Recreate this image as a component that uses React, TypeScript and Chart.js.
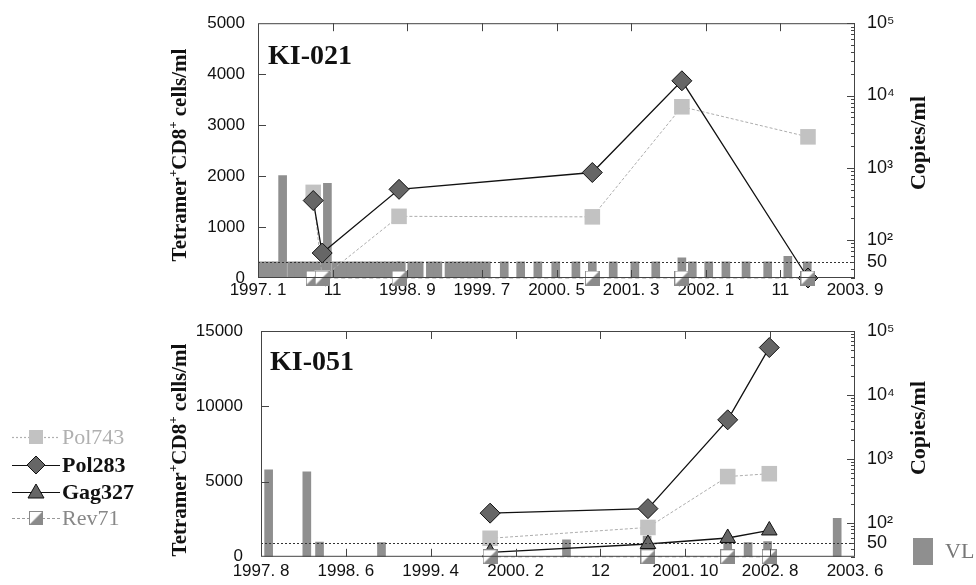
import React, { useEffect, useRef } from 'react';
import { Chart, registerables } from 'chart.js';

Chart.register(...registerables);

// ---------- KI-021 (top panel); x = months since 1997.1 ----------
const topXLabels = ['1997. 1', '11', '1998. 9', '1999. 7', '2000. 5', '2001. 3', '2002. 1', '11', '2003. 9'];
const topSampleMonths = [7.4, 8.6, 18.9, 44.8, 56.8, 73.7];
const topPol743 = [1680, 0, 1210, 1200, 3360, 2770];
const topPol283 = [1520, 490, 1740, 2070, 3870, 0];
const topRev71 = [0, 0, 0, 0, 0, 0];
const topVLMonths = [
  0.5, 1.5, 2.5, 3.3, 4.5, 5.5, 6.5, 7.5, 8.5, 9.3, 10.5, 11.5, 12.5, 13.5, 14.5, 15.5, 16.5, 17.5, 18.5, 19.2,
  20.6, 21.6, 23.1, 24.1, 25.6, 26.6, 27.6, 28.6, 29.6, 30.6, 33.0, 35.2, 37.5, 39.9, 42.6, 44.8, 47.6, 50.5,
  53.3, 56.8, 58.2, 60.4, 62.7, 65.4, 68.3, 71.0, 73.6,
];
const topVL = [
  50, 50, 50, 780, 50, 50, 50, 50, 50, 610, 50, 50, 50, 50, 50, 50, 50, 50, 50, 50,
  50, 50, 50, 50, 50, 50, 50, 50, 50, 50, 50, 50, 50, 50, 50, 50, 50, 50,
  50, 57, 50, 50, 50, 50, 50, 60, 50,
];

// ---------- KI-051 (bottom panel); x = months since 1997.8 ----------
const botXLabels = ['1997. 8', '1998. 6', '1999. 4', '2000. 2', '12', '2001. 10', '2002. 8', '2003. 6'];
const botSampleMonths = [27.0, 45.6, 55.0, 59.9];
const botPol743 = [1230, 1950, 5330, 5520];
const botPol283 = [2900, 3200, 9100, 13900];
const botGag327 = [300, 850, 1250, 1750];
const botRev71 = [0, 0, 0, 0];
const botVLMonths = [0.9, 5.4, 6.9, 14.2, 36.0, 45.5, 55.0, 57.4, 59.7, 67.9];
const botVL = [681, 635, 51, 50, 55, 63, 53, 50, 52, 119];

// right (log) axis ticks
const vlTickValues = [50, 100, 1000, 10000, 100000];
const vlTickLabels = ['50', '10²', '10³', '10⁴', '10⁵'];

const TICK_FONT = { family: "'Liberation Sans', Arial, sans-serif", size: 17 };
const SERIF = "'Liberation Serif', 'Times New Roman', serif";

function makeRevMarker(): HTMLCanvasElement {
  const c = document.createElement('canvas');
  c.width = 15;
  c.height = 15;
  const g = c.getContext('2d')!;
  g.fillStyle = '#ffffff';
  g.fillRect(0, 0, 15, 15);
  g.fillStyle = '#8a8a8a';
  g.beginPath();
  g.moveTo(0, 15);
  g.lineTo(15, 0);
  g.lineTo(15, 15);
  g.closePath();
  g.fill();
  g.strokeStyle = '#8a8a8a';
  g.lineWidth = 1;
  g.strokeRect(0.5, 0.5, 14, 14);
  return c;
}

function pts(months: number[], vals: number[]) {
  return months.map((m, i) => ({ x: m, y: vals[i] }));
}

function drawRich(ctx: CanvasRenderingContext2D, parts: { t: string; sup?: boolean }[], cx: number, cy: number, size: number) {
  const big = `bold ${size}px ${SERIF}`;
  const small = `bold ${Math.round(size * 0.62)}px ${SERIF}`;
  let total = 0;
  parts.forEach((p) => {
    ctx.font = p.sup ? small : big;
    total += ctx.measureText(p.t).width;
  });
  ctx.save();
  ctx.translate(cx, cy);
  ctx.rotate(-Math.PI / 2);
  ctx.textBaseline = 'middle';
  ctx.textAlign = 'left';
  let x = -total / 2;
  parts.forEach((p) => {
    ctx.font = p.sup ? small : big;
    ctx.fillText(p.t, x, p.sup ? -size * 0.33 : 0);
    x += ctx.measureText(p.t).width;
  });
  ctx.restore();
}

function line(ctx: CanvasRenderingContext2D, x1: number, y1: number, x2: number, y2: number) {
  ctx.beginPath();
  ctx.moveTo(x1, y1);
  ctx.lineTo(x2, y2);
  ctx.stroke();
}

type Decor = {
  label: string;
  labelX: number;
  labelY: number;
  yTitleY: number;
  rTitleY: number;
  legend: boolean;
  rev: HTMLCanvasElement;
};

function decorPlugin(d: Decor) {
  return {
    id: 'decor',
    afterDatasetsDraw(chart: any) {
      const { ctx, chartArea: a, scales } = chart;
      const x = scales.x;
      const yL = scales.y;
      const yR = scales.yR;
      ctx.save();
      ctx.strokeStyle = '#333';
      ctx.lineWidth = 1;
      // detection limit line
      ctx.setLineDash([2, 2]);
      const y50 = Math.round(yR.getPixelForValue(50)) + 0.5;
      line(ctx, a.left, y50, a.right, y50);
      ctx.setLineDash([]);
      // frame
      ctx.strokeStyle = '#444';
      ctx.strokeRect(a.left + 0.5, a.top + 0.5, a.width - 1, a.height - 1);
      // x ticks (inward, top and bottom)
      x.ticks.forEach((t: any) => {
        const px = Math.round(x.getPixelForValue(t.value)) + 0.5;
        if (px <= a.left + 2 || px >= a.right - 2) return;
        line(ctx, px, a.top, px, a.top + 8);
        line(ctx, px, a.bottom, px, a.bottom - 8);
      });
      // left ticks
      yL.ticks.forEach((t: any) => {
        const py = Math.round(yL.getPixelForValue(t.value)) + 0.5;
        if (py <= a.top + 2 || py >= a.bottom - 2) return;
        line(ctx, a.left, py, a.left + 8, py);
      });
      // right log ticks
      for (let dec = 10; dec <= 100000; dec *= 10) {
        for (let k = 1; k < 10; k++) {
          const v = dec * k;
          if (v < yR.min || v > yR.max) continue;
          const py = Math.round(yR.getPixelForValue(v)) + 0.5;
          const len = k === 1 ? 8 : 4;
          line(ctx, a.right - len, py, a.right, py);
        }
      }
      ctx.restore();
    },
    afterDraw(chart: any) {
      const { ctx } = chart;
      ctx.save();
      ctx.fillStyle = '#111';
      ctx.font = `bold 28px ${SERIF}`;
      ctx.textAlign = 'left';
      ctx.textBaseline = 'alphabetic';
      ctx.fillText(d.label, d.labelX, d.labelY);
      drawRich(ctx, [{ t: 'Tetramer' }, { t: '+', sup: true }, { t: 'CD8' }, { t: '+', sup: true }, { t: ' cells/ml' }], 181, d.yTitleY, 21);
      drawRich(ctx, [{ t: 'Copies/ml' }], 919, d.rTitleY, 22);

      if (d.legend) {
        const rows = [
          { name: 'Pol743', y: 137, color: '#b0b0b0', bold: false, dash: [2, 2], lc: '#b0b0b0', mk: 'sq' },
          { name: 'Pol283', y: 165, color: '#111', bold: true, dash: [], lc: '#111', mk: 'di' },
          { name: 'Gag327', y: 192, color: '#111', bold: true, dash: [], lc: '#111', mk: 'tr' },
          { name: 'Rev71', y: 218, color: '#888', bold: false, dash: [3, 2], lc: '#999', mk: 'rv' },
        ];
        rows.forEach((r) => {
          ctx.strokeStyle = r.lc;
          ctx.lineWidth = 1.2;
          ctx.setLineDash(r.dash);
          line(ctx, 12, r.y + 0.5, 60, r.y + 0.5);
          ctx.setLineDash([]);
          const cx = 36;
          const cy = r.y;
          ctx.beginPath();
          if (r.mk === 'sq') {
            ctx.fillStyle = '#c2c2c2';
            ctx.fillRect(cx - 7, cy - 7, 14, 14);
          } else if (r.mk === 'di') {
            ctx.moveTo(cx - 9, cy);
            ctx.lineTo(cx, cy - 9);
            ctx.lineTo(cx + 9, cy);
            ctx.lineTo(cx, cy + 9);
            ctx.closePath();
            ctx.fillStyle = '#666';
            ctx.fill();
            ctx.strokeStyle = '#111';
            ctx.lineWidth = 1;
            ctx.stroke();
          } else if (r.mk === 'tr') {
            ctx.moveTo(cx, cy - 8);
            ctx.lineTo(cx + 8, cy + 6);
            ctx.lineTo(cx - 8, cy + 6);
            ctx.closePath();
            ctx.fillStyle = '#666';
            ctx.fill();
            ctx.strokeStyle = '#111';
            ctx.lineWidth = 1;
            ctx.stroke();
          } else {
            ctx.drawImage(d.rev, cx - 7, cy - 7, 14, 14);
          }
          ctx.fillStyle = r.color;
          ctx.font = `${r.bold ? 'bold ' : ''}22px ${SERIF}`;
          ctx.textBaseline = 'middle';
          ctx.fillText(r.name, 62, r.y + 1);
        });
        // VL legend
        ctx.fillStyle = '#8f8f8f';
        ctx.fillRect(913, 238, 20, 27);
        ctx.fillStyle = '#777';
        ctx.font = `22px ${SERIF}`;
        ctx.textBaseline = 'middle';
        ctx.fillText('VL', 945, 252);
      }
      ctx.restore();
    },
  };
}

type PanelCfg = {
  width: number;
  height: number;
  padTop: number;
  xHeight: number;
  xPad: number;
  leftWidth: number;
  xMax: number;
  xLabels: string[];
  yMax: number;
  yStep: number;
  yPad: number;
  vlMonths: number[];
  vl: number[];
  months: number[];
  pol743: number[];
  pol283: number[];
  gag327: number[] | null;
  rev71: number[];
  decor: Omit<Decor, 'rev'>;
};

function buildChart(canvas: HTMLCanvasElement, p: PanelCfg) {
  const rev = makeRevMarker();
  const datasets: any[] = [
    {
      type: 'line',
      label: 'Rev71',
      data: pts(p.months, p.rev71),
      yAxisID: 'y',
      borderColor: '#9a9a9a',
      borderWidth: 1,
      borderDash: [4, 3],
      pointStyle: rev,
      pointRadius: 7,
      order: 0,
      clip: false,
    },
    {
      type: 'line',
      label: 'Pol283',
      data: pts(p.months, p.pol283),
      yAxisID: 'y',
      borderColor: '#111',
      borderWidth: 1.3,
      pointStyle: 'rectRot',
      pointRadius: 10,
      pointBackgroundColor: '#666',
      pointBorderColor: '#111',
      pointBorderWidth: 1,
      order: 1,
      clip: false,
    },
    {
      type: 'line',
      label: 'Pol743',
      data: pts(p.months, p.pol743),
      yAxisID: 'y',
      borderColor: '#adadad',
      borderWidth: 1,
      borderDash: [3, 2],
      pointStyle: 'rect',
      pointRadius: 11,
      pointBackgroundColor: '#c2c2c2',
      pointBorderColor: '#c2c2c2',
      pointBorderWidth: 0,
      order: 3,
      clip: false,
    },
    {
      type: 'bar',
      label: 'VL',
      data: pts(p.vlMonths, p.vl),
      yAxisID: 'yR',
      backgroundColor: '#8f8f8f',
      borderWidth: 0,
      barThickness: 8,
      order: 10,
    },
  ];
  if (p.gag327) {
    datasets.push({
      type: 'line',
      label: 'Gag327',
      data: pts(p.months, p.gag327),
      yAxisID: 'y',
      borderColor: '#111',
      borderWidth: 1.3,
      pointStyle: 'triangle',
      pointRadius: 9,
      pointBackgroundColor: '#666',
      pointBorderColor: '#111',
      pointBorderWidth: 1,
      order: 2,
      clip: false,
    });
  }
  return new Chart(canvas, {
    type: 'bar',
    data: { datasets },
    options: {
      responsive: false,
      animation: false,
      events: [],
      layout: { padding: { top: p.padTop, left: 0, right: 0, bottom: 0 } },
      plugins: { legend: { display: false }, tooltip: { enabled: false } },
      scales: {
        x: {
          type: 'linear',
          min: 0,
          max: p.xMax,
          offset: false,
          grid: { display: false, drawTicks: false, tickLength: 0 },
          border: { display: false },
          ticks: {
            stepSize: 10,
            autoSkip: false,
            maxRotation: 0,
            padding: p.xPad,
            color: '#111',
            font: TICK_FONT,
            callback: (v: any) => p.xLabels[Math.round(Number(v) / 10)] ?? '',
          },
          afterFit: (s: any) => {
            s.height = p.xHeight;
          },
        },
        y: {
          type: 'linear',
          position: 'left',
          min: 0,
          max: p.yMax,
          grid: { display: false, drawTicks: false, tickLength: 0 },
          border: { display: false },
          ticks: {
            stepSize: p.yStep,
            padding: p.yPad,
            color: '#111',
            font: TICK_FONT,
            callback: (v: any) => String(v),
          },
          afterFit: (s: any) => {
            s.width = p.leftWidth;
          },
        },
        yR: {
          type: 'logarithmic',
          position: 'right',
          min: 30,
          max: 100000,
          grid: { display: false, drawTicks: false, tickLength: 0 },
          border: { display: false },
          ticks: {
            autoSkip: false,
            padding: 12,
            color: '#111',
            font: { ...TICK_FONT, size: 18 },
            callback: (v: any) => {
              const i = vlTickValues.indexOf(Number(v));
              return i >= 0 ? vlTickLabels[i] : '';
            },
          },
          afterBuildTicks: (s: any) => {
            s.ticks = vlTickValues.map((v) => ({ value: v }));
          },
          afterFit: (s: any) => {
            s.width = p.width - 855;
          },
        },
      } as any,
    },
    plugins: [decorPlugin({ ...p.decor, rev })],
  } as any);
}

function Panel({ top, cfg }: { top: number; cfg: PanelCfg }) {
  const ref = useRef<HTMLCanvasElement>(null);
  useEffect(() => {
    if (!ref.current) return;
    const ch = buildChart(ref.current, cfg);
    return () => ch.destroy();
  }, []);
  return (
    <canvas
      ref={ref}
      width={cfg.width}
      height={cfg.height}
      style={{ position: 'absolute', left: 0, top, width: cfg.width, height: cfg.height }}
    />
  );
}

const topCfg: PanelCfg = {
  width: 976,
  height: 305,
  padTop: 22,
  xHeight: 27,
  xPad: 2,
  leftWidth: 258,
  xMax: 80,
  xLabels: topXLabels,
  yMax: 5000,
  yStep: 1000,
  yPad: 13,
  vlMonths: topVLMonths,
  vl: topVL,
  months: topSampleMonths,
  pol743: topPol743,
  pol283: topPol283,
  gag327: null,
  rev71: topRev71,
  decor: { label: 'KI-021', labelX: 268, labelY: 64, yTitleY: 155, rTitleY: 143, legend: false },
};

const botCfg: PanelCfg = {
  width: 976,
  height: 285,
  padTop: 31,
  xHeight: 21,
  xPad: 4,
  leftWidth: 261,
  xMax: 70,
  xLabels: botXLabels,
  yMax: 15000,
  yStep: 5000,
  yPad: 18,
  vlMonths: botVLMonths,
  vl: botVL,
  months: botSampleMonths,
  pol743: botPol743,
  pol283: botPol283,
  gag327: botGag327,
  rev71: botRev71,
  decor: { label: 'KI-051', labelX: 270, labelY: 70, yTitleY: 150, rTitleY: 128, legend: true },
};

export default function App() {
  return (
    <div style={{ position: 'absolute', left: 0, top: 0, width: 976, height: 585, background: '#fff' }}>
      <Panel top={0} cfg={topCfg} />
      <Panel top={300} cfg={botCfg} />
    </div>
  );
}
